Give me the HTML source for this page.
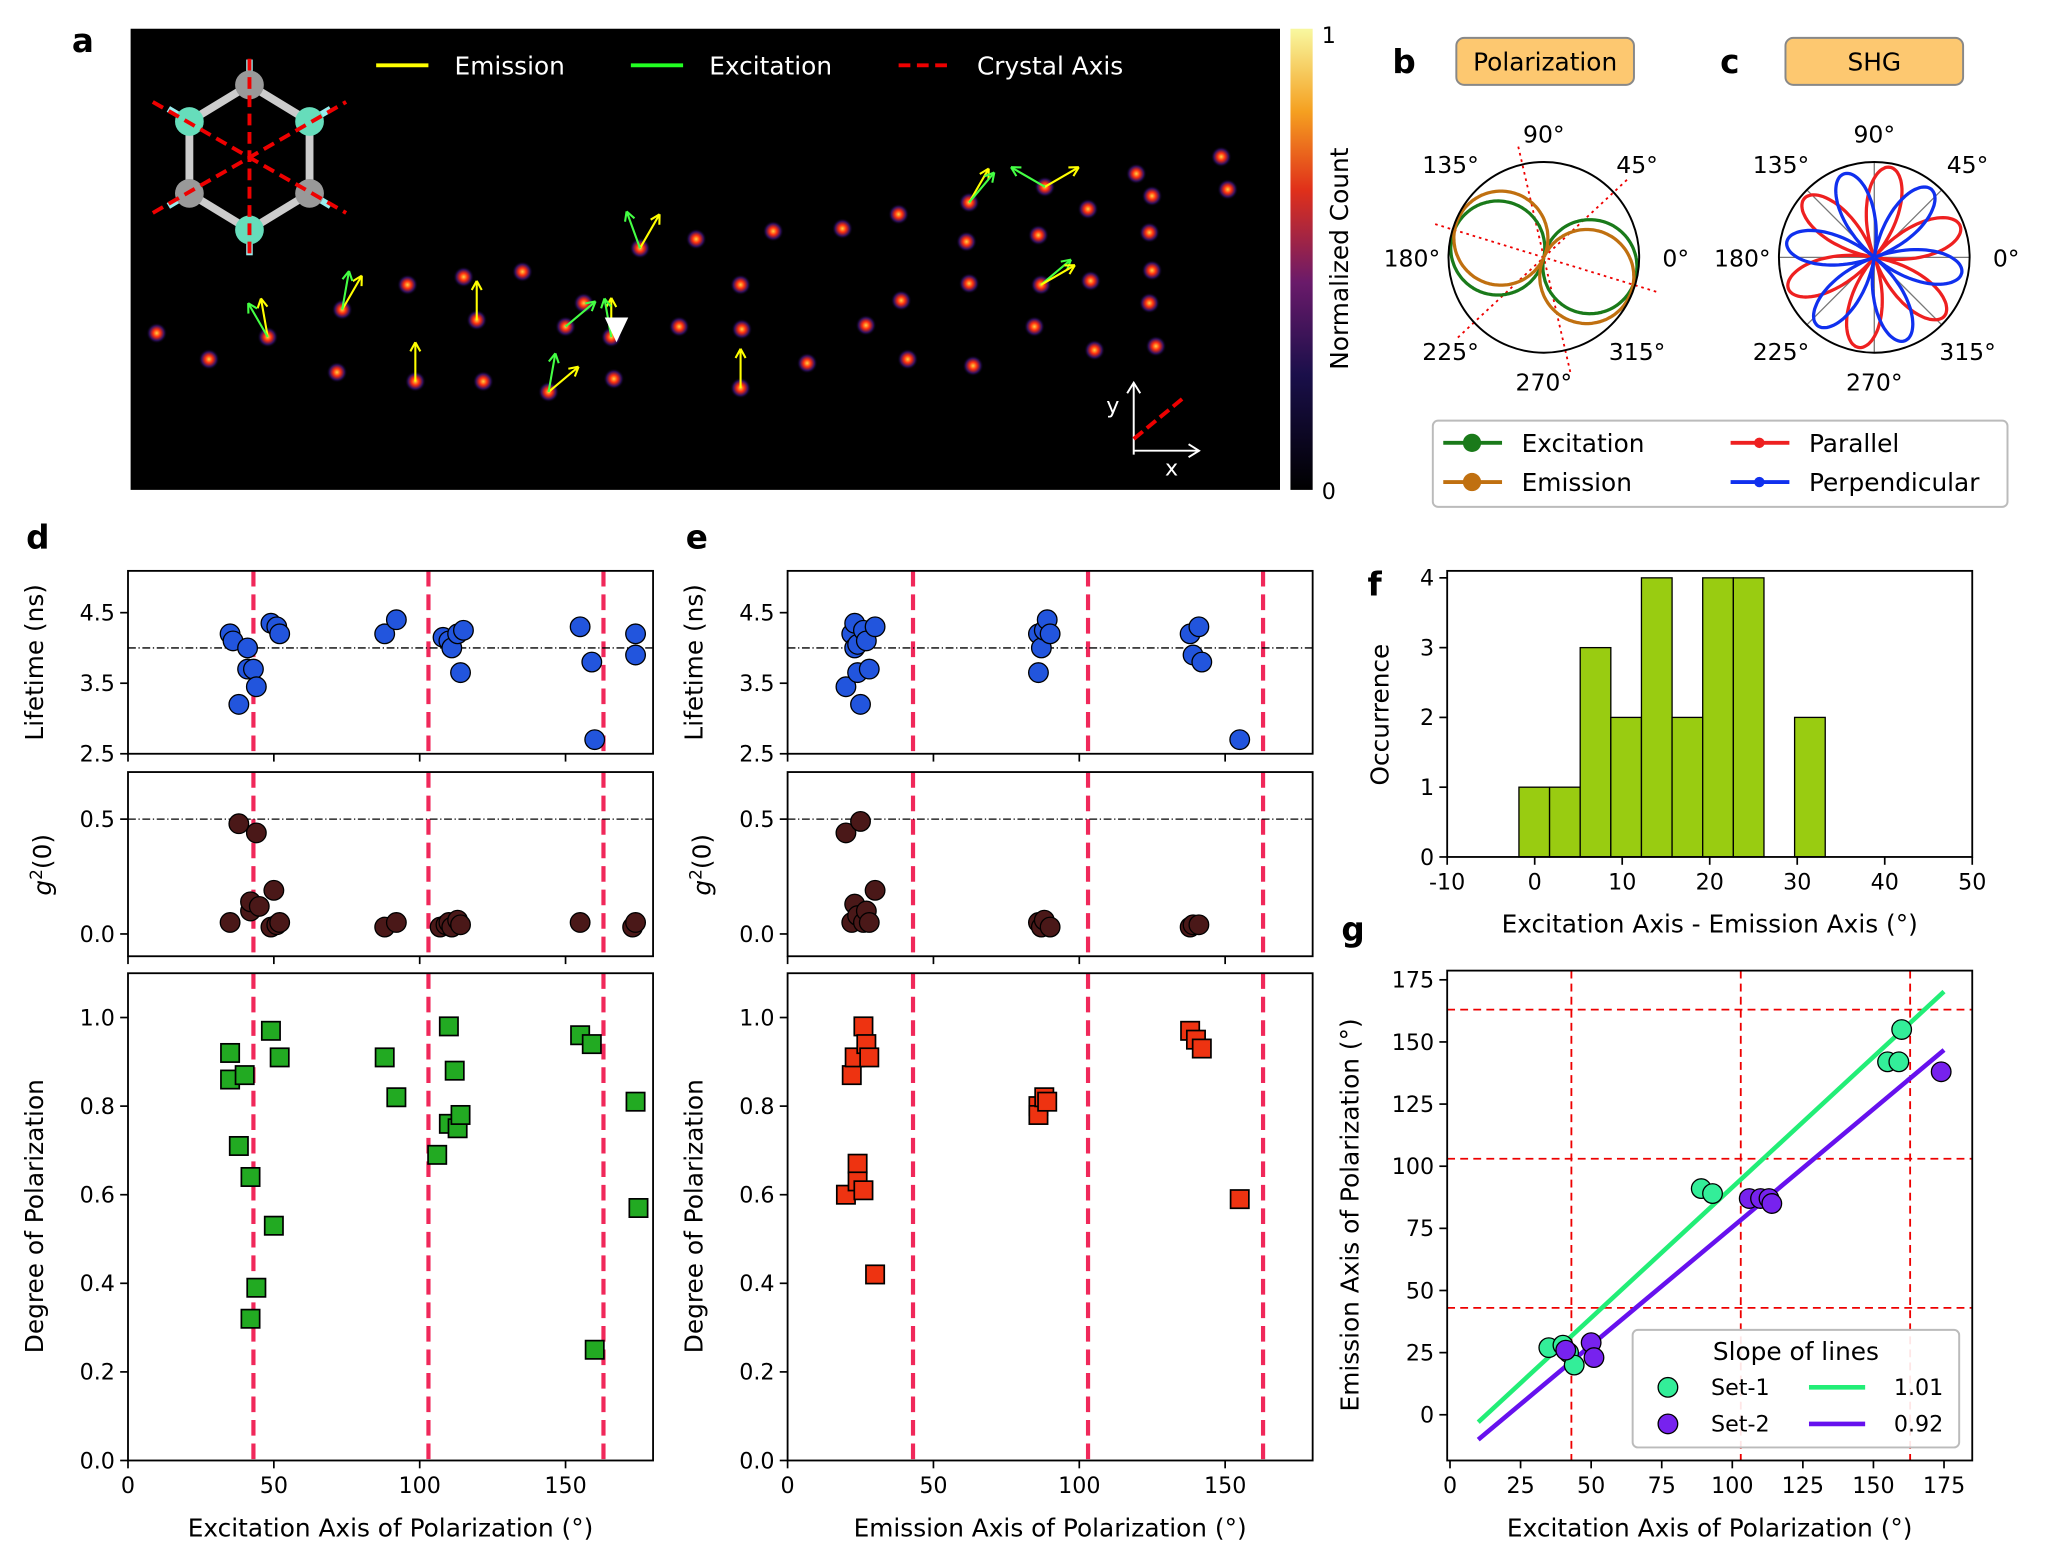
<!DOCTYPE html>
<html><head><meta charset="utf-8"><style>
html,body{margin:0;padding:0;background:#fff}
svg{display:block;font-family:"DejaVu Sans","Liberation Sans",sans-serif}
</style></head><body>
<svg id="s" width="2048" height="1565" viewBox="0 0 1568 1198" preserveAspectRatio="none" xmlns="http://www.w3.org/2000/svg">
<defs>
<linearGradient id="cb" x1="0" y1="1" x2="0" y2="0">
<stop offset="0" stop-color="#000"/><stop offset="0.25" stop-color="#1a0f4a"/><stop offset="0.45" stop-color="#6a1a6a"/>
<stop offset="0.65" stop-color="#e0301a"/><stop offset="0.82" stop-color="#f5a020"/><stop offset="1" stop-color="#f8f8a0"/>
</linearGradient>
<radialGradient id="spot"><stop offset="0" stop-color="#ffd040"/><stop offset="0.35" stop-color="#ff3010"/><stop offset="0.7" stop-color="#301060"/><stop offset="1" stop-color="#000" stop-opacity="0"/></radialGradient>
</defs>
<g id="root"></g>
</svg>
<script>
// ---------- data ----------
const dLifeX=[35,36,38,41,41,43,44,49,51,52,88,92,108,110,111,113,114,115,155,159,160,174,174];
const dLifeY=[4.2,4.1,3.2,4.0,3.7,3.7,3.45,4.35,4.3,4.2,4.2,4.4,4.15,4.1,4.0,4.2,3.65,4.25,4.3,3.8,2.7,3.9,4.2];
const dG2X=[35,38,42,42,44,45,49,50,51,52,88,92,107,109,110,111,113,114,155,173,174];
const dG2Y=[0.05,0.48,0.1,0.14,0.44,0.12,0.03,0.19,0.04,0.05,0.03,0.05,0.03,0.04,0.05,0.03,0.06,0.04,0.05,0.03,0.05];
const dDopX=[35,35,38,40,42,42,44,49,50,52,88,92,106,110,110,112,113,114,155,159,160,174,175];
const dDopY=[0.92,0.86,0.71,0.87,0.32,0.64,0.39,0.97,0.53,0.91,0.91,0.82,0.69,0.98,0.76,0.88,0.75,0.78,0.96,0.94,0.25,0.81,0.57];
const eLifeX=[20,22,23,23,24,24,25,26,27,28,30,86,86,87,88,89,90,138,139,141,142,155];
const eLifeY=[3.45,4.2,4.35,4.0,4.05,3.65,3.2,4.25,4.1,3.7,4.3,3.65,4.2,4.0,4.25,4.4,4.2,4.2,3.9,4.3,3.8,2.7];
const eG2X=[20,22,23,24,25,26,27,28,30,86,87,88,90,138,139,141];
const eG2Y=[0.44,0.05,0.13,0.08,0.49,0.05,0.1,0.05,0.19,0.05,0.03,0.06,0.03,0.03,0.04,0.04];
const eDopX=[20,22,23,24,24,26,26,27,28,30,86,86,88,89,138,140,142,155];
const eDopY=[0.6,0.87,0.91,0.67,0.63,0.98,0.61,0.94,0.91,0.42,0.8,0.78,0.82,0.81,0.97,0.95,0.93,0.59];
const crystalAxes=[43,103,163];
const histCounts=[1,1,3,2,4,2,4,4,0,2];
const histStart=-1.8, histWidth=3.5;
const set1X=[35,40,42,44,89,93,155,159,160];
const set1Y=[27,28,25,20,91,89,142,142,155];
const set2X=[41,50,51,106,110,113,114,174];
const set2Y=[26,29,23,87,87,87,85,138];
const slopes=[1.05,0.95];
const intercepts=[-13.5,-19.5];
const slopeLabels=["1.01","0.92"];
const spots=[[120,255],[160,275],[205,258],[258,285],[262,237],[312,218],[318,292],[355,212],[365,245],[370,292],[400,208],[420,300],[433,250],[447,232],[468,258],[470,290],[490,190],[520,250],[533,183],[567,218],[568,252],[567,297],[592,177],[618,278],[645,175],[663,249],[688,164],[690,230],[695,275],[740,185],[742,217],[745,280],[742,155],[792,250],[797,218],[795,180],[800,143],[835,215],[838,268],[833,160],[870,133],[880,178],[882,207],[880,232],[885,265],[882,150],[935,120],[940,145]];
// ---------- helpers ----------
const NS="http://www.w3.org/2000/svg", root=document.getElementById('root');
function el(t,a,p){const e=document.createElementNS(NS,t);for(const k in a)e.setAttribute(k,a[k]);(p||root).appendChild(e);return e;}
function txt(x,y,s,a,p){const e=el('text',Object.assign({x:x,y:y,'font-size':17,fill:'#000'},a||{}),p);e.textContent=s;return e;}
function lin(x0,x1,p0,p1){return v=>p0+(v-x0)*(p1-p0)/(x1-x0);}
function axes(name,L,T,R,B,xd,yd,xt,xlab,yt,ylab,fmt){
  const g=el('g',{});
  const sx=lin(xd[0],xd[1],L,R), sy=lin(yd[0],yd[1],B,T);
  xt.forEach(v=>{const x=sx(v);el('line',{x1:x,y1:B,x2:x,y2:B+6,stroke:'#000','stroke-width':1.3},g);if(xlab)txt(x,B+25,String(v),{'text-anchor':'middle'},g);});
  yt.forEach(v=>{const y=sy(v);el('line',{x1:L-6,y1:y,x2:L,y2:y,stroke:'#000','stroke-width':1.3},g);txt(L-10,y+6,fmt?fmt(v):String(v),{'text-anchor':'end'},g);});
  return {g,sx,sy,L,T,R,B,frame(){el('rect',{x:L,y:T,width:R-L,height:B-T,fill:'none',stroke:'#000','stroke-width':1.4},g);}};
}
function ylabel(x,y,s,g){return txt(x,y,s,{'font-size':19,'text-anchor':'middle',transform:`rotate(-90 ${x} ${y})`},g);}
// ---------- panel a ----------
const pa=el('g',{});
el('rect',{x:100,y:22,width:880,height:353,fill:'#000'},pa);
spots.forEach(s=>{const c=el('circle',{cx:s[0],cy:s[1],r:8,fill:'url(#spot)'},pa);});
[[262,237,-60,'#ff0'],[262,237,-80,'#4f4'],[205,258,-100,'#ff0'],[205,258,-120,'#4f4'],[468,258,-90,'#ff0'],[468,258,-100,'#4f4'],[490,190,-60,'#ff0'],[490,190,-110,'#4f4'],[567,297,-90,'#ff0'],[742,155,-60,'#ff0'],[742,155,-50,'#4f4'],[800,143,-30,'#ff0'],[800,143,-150,'#4f4'],[365,245,-90,'#ff0'],[420,300,-40,'#ff0'],[420,300,-80,'#4f4'],[318,292,-90,'#ff0'],[797,218,-40,'#4f4'],[797,218,-30,'#ff0'],[433,250,-40,'#4f4']].forEach(a=>{
 const r=a[2]*Math.PI/180,x2=a[0]+30*Math.cos(r),y2=a[1]+30*Math.sin(r);
 const ln=el('line',{x1:a[0],y1:a[1],x2:x2,y2:y2,stroke:a[3],'stroke-width':1.6},pa);
 [0.5,-0.5].forEach(d=>el('line',{x1:x2,y1:y2,x2:x2-8*Math.cos(r+d),y2:y2-8*Math.sin(r+d),stroke:a[3],'stroke-width':1.6},pa));});
el('polygon',{points:'463,243 481,243 472,262',fill:'#fff'},pa);
const hx=[[191,65],[237,93],[237,148],[191,176],[145,148],[145,93]];
hx.forEach((p,i)=>{const q=hx[(i+1)%6];el('line',{x1:p[0],y1:p[1],x2:q[0],y2:q[1],stroke:'#ccc','stroke-width':6},pa);});
hx.forEach((p,i)=>{el('line',{x1:p[0],y1:p[1],x2:191+(p[0]-191)*1.35,y2:120.5+(p[1]-120.5)*1.35,stroke:'#9ee','stroke-width':5},pa);el('circle',{cx:p[0],cy:p[1],r:11,fill:i%2?'#66ddbb':'#999'},pa);});
[[191,45,191,196],[117,78,265,163],[117,163,265,78]].forEach(l=>el('line',{x1:l[0],y1:l[1],x2:l[2],y2:l[3],stroke:'#e00','stroke-width':3,'stroke-dasharray':'9,5'},pa));
el('line',{x1:288,y1:50,x2:328,y2:50,stroke:'#ff0','stroke-width':3},pa);txt(348,57,'Emission',{fill:'#fff','font-size':19},pa);
el('line',{x1:483,y1:50,x2:523,y2:50,stroke:'#2f2','stroke-width':3},pa);txt(543,57,'Excitation',{fill:'#fff','font-size':19},pa);
el('line',{x1:688,y1:50,x2:728,y2:50,stroke:'#e00','stroke-width':3,'stroke-dasharray':'9,5'},pa);txt(748,57,'Crystal Axis',{fill:'#fff','font-size':19},pa);
el('line',{x1:868,y1:345,x2:918,y2:345,stroke:'#fff','stroke-width':1.5},pa);el('polyline',{points:'910,340 918,345 910,350',fill:'none',stroke:'#fff','stroke-width':1.5},pa);
el('line',{x1:868,y1:348,x2:868,y2:293,stroke:'#fff','stroke-width':1.5},pa);el('polyline',{points:'863,301 868,293 873,301',fill:'none',stroke:'#fff','stroke-width':1.5},pa);
el('line',{x1:868,y1:336,x2:908,y2:303,stroke:'#e00','stroke-width':3,'stroke-dasharray':'9,4'},pa);
txt(847,316,'y',{fill:'#fff','font-size':17},pa);txt(892,364,'x',{fill:'#fff','font-size':17},pa);
const cbg=el('g',{});
el('rect',{x:988,y:22,width:17,height:353,fill:'url(#cb)'},cbg);
txt(1012,33,'1',{},cbg);txt(1012,382,'0',{},cbg);ylabel(1032,198,'Normalized Count',cbg);
// ---------- panels b, c ----------
function polar(name,cx,cy,R,title,tx,draw){
 const g=el('g',{});
 el('rect',{x:tx-68,y:29,width:136,height:36,rx:6,fill:'#fdc870',stroke:'#888','stroke-width':1.5},g);
 txt(tx,54,title,{'text-anchor':'middle','font-size':19},g);
 draw(g);
 el('circle',{cx:cx,cy:cy,r:R,fill:'none',stroke:'#000','stroke-width':1.5},g);
 [[0,'0°'],[45,'45°'],[90,'90°'],[135,'135°'],[180,'180°'],[225,'225°'],[270,'270°'],[315,'315°']].forEach(a=>{
  const r=a[0]*Math.PI/180,rr=R+(a[0]%90?28:22);txt(cx+rr*Math.cos(r)+(a[0]==0?6:a[0]==180?-6:0),cy-rr*Math.sin(r)+7,a[1],{'text-anchor':'middle','font-size':18},g);});
 return g;}
function curve(g,cx,cy,R,f,col,w){let d='';for(let i=0;i<=360;i++){const t=i*Math.PI/180,r=R*f(t);d+=(i?'L':'M')+(cx+r*Math.cos(t)).toFixed(1)+','+(cy-r*Math.sin(t)).toFixed(1);}return el('path',{d:d,fill:'none',stroke:col,'stroke-width':w||2.5},g);}
polar('polar-polarization',1182,197,73,'Polarization',1183,g=>{
 crystalAxes.forEach(a=>{const r=a*Math.PI/180;el('line',{x1:1182-90*Math.cos(r),y1:197+90*Math.sin(r),x2:1182+90*Math.cos(r),y2:197-90*Math.sin(r),stroke:'#e00','stroke-width':1.4,'stroke-dasharray':'2,3'},g);});
 const c1=curve(g,1182,197,72,t=>Math.abs(Math.cos(t+0.2)),'#1a7a1a');
 const c2=curve(g,1182,197,72,t=>Math.abs(Math.cos(t+0.42)),'#c07010');
});
polar('polar-shg',1435,197,73,'SHG',1435,g=>{
 [0,45,90,135].forEach(a=>{const r=a*Math.PI/180;el('line',{x1:1435-73*Math.cos(r),y1:197+73*Math.sin(r),x2:1435+73*Math.cos(r),y2:197-73*Math.sin(r),stroke:'#777','stroke-width':1},g);});
 const c1=curve(g,1435,197,70,t=>Math.abs(Math.cos(3*(t-0.35))),'#ee2020');
 const c2=curve(g,1435,197,68,t=>Math.abs(Math.sin(3*(t-0.35))),'#1030ee');
});
const lg=el('g',{});
el('rect',{x:1097,y:322,width:440,height:66,rx:4,fill:'#fff',stroke:'#bbb','stroke-width':1.5},lg);
[[1105,339,'#1a7a1a','Excitation'],[1105,369,'#c07010','Emission'],[1325,339,'#ee2020','Parallel'],[1325,369,'#1030ee','Perpendicular']].forEach(e=>{
 el('line',{x1:e[0],y1:e[1],x2:e[0]+45,y2:e[1],stroke:e[2],'stroke-width':3},lg);el('circle',{cx:e[0]+22,cy:e[1],r:e[2]=='#ee2020'||e[2]=='#1030ee'?4:7,fill:e[2]},lg);txt(e[0]+60,e[1]+7,e[3],{'font-size':19},lg);});
// ---------- panels d, e ----------
function scatterPanel(prefix,L,R,lx,lifeX,lifeY,g2X,g2Y,dopX,dopY,sqCol,xlab){
 const vl=(a)=>crystalAxes.forEach(c=>{const x=a.sx(c);el('line',{x1:x,y1:a.T,x2:x,y2:a.B,stroke:'#f0285a','stroke-width':3.2,'stroke-dasharray':'12,6'},a.g);});
 const a1=axes(prefix+'-lifetime-axes',L,437,R,577,[0,180],[2.5,2.5+140/54],[0,50,100,150],false,[2.5,3.5,4.5],null,v=>v.toFixed(1));
 vl(a1);el('line',{x1:L,y1:a1.sy(4),x2:R,y2:a1.sy(4),stroke:'#000','stroke-width':1,'stroke-dasharray':'6,2,1,2'},a1.g);
 lifeX.forEach((x,i)=>{const c=el('circle',{cx:a1.sx(x),cy:a1.sy(lifeY[i]),r:7.5,fill:'#2255dd',stroke:'#000','stroke-width':1},a1.g);});
 a1.frame();ylabel(lx,507,'Lifetime (ns)',a1.g);
 const a2=axes(prefix+'-g2-axes',L,591,R,732,[0,180],[-0.097,0.705],[0,50,100,150],false,[0.0,0.5],null,v=>v.toFixed(1));
 vl(a2);el('line',{x1:L,y1:a2.sy(0.5),x2:R,y2:a2.sy(0.5),stroke:'#000','stroke-width':1,'stroke-dasharray':'6,2,1,2'},a2.g);
 g2X.forEach((x,i)=>{const c=el('circle',{cx:a2.sx(x),cy:a2.sy(g2Y[i]),r:7.5,fill:'#4a1818',stroke:'#000','stroke-width':1},a2.g);});
 a2.frame();const t=txt(lx+6,662,'',{'font-size':19,'text-anchor':'middle',transform:`rotate(-90 ${lx+6} 662)`},a2.g);t.innerHTML='<tspan font-style="italic">g</tspan><tspan dy="-7" font-size="13">2</tspan><tspan dy="7">(0)</tspan>';
 const a3=axes(prefix+'-dop-axes',L,745,R,1118,[0,180],[0,1.1],[0,50,100,150],true,[0,0.2,0.4,0.6,0.8,1.0],null,v=>v.toFixed(1));
 vl(a3);
 dopX.forEach((x,i)=>{const c=el('rect',{x:a3.sx(x)-7,y:a3.sy(dopY[i])-7,width:14,height:14,fill:sqCol,stroke:'#000','stroke-width':1.3},a3.g);});
 a3.frame();ylabel(lx,931,'Degree of Polarization',a3.g);txt((L+R)/2,1176,xlab,{'font-size':19,'text-anchor':'middle'},a3.g);
}
scatterPanel('d',98,500,33,dLifeX,dLifeY,dG2X,dG2Y,dDopX,dDopY,'#22aa22','Excitation Axis of Polarization (°)');
scatterPanel('e',603,1005,538,eLifeX,eLifeY,eG2X,eG2Y,eDopX,eDopY,'#ee3311','Emission Axis of Polarization (°)');
// ---------- panel f ----------
const af=axes('f-histogram-axes',1108,437,1510,656,[-10,50],[0,4.1],[-10,0,10,20,30,40,50],true,[0,1,2,3,4]);
histCounts.forEach((c,i)=>{if(!c)return;const x0=histStart+i*histWidth;const b=el('rect',{x:af.sx(x0),y:af.sy(c),width:af.sx(x0+histWidth)-af.sx(x0),height:af.sy(0)-af.sy(c),fill:'#99cc11',stroke:'#000','stroke-width':1},af.g);});
af.frame();ylabel(1063,547,'Occurrence',af.g);txt(1309,714,'Excitation Axis - Emission Axis (°)',{'font-size':19,'text-anchor':'middle'},af.g);
// ---------- panel g ----------
const ag=axes('g-scatter-axes',1108,743,1510,1118,[-1,185],[-18.4,178.7],[0,25,50,75,100,125,150,175],true,[0,25,50,75,100,125,150,175]);
crystalAxes.forEach(c=>{el('line',{x1:ag.sx(c),y1:743,x2:ag.sx(c),y2:1118,stroke:'#e00','stroke-width':1.4,'stroke-dasharray':'6,4'},ag.g);el('line',{x1:1108,y1:ag.sy(c),x2:1510,y2:ag.sy(c),stroke:'#e00','stroke-width':1.4,'stroke-dasharray':'6,4'},ag.g);});
['#22ee77','#6611ee'].forEach((col,k)=>{const l=el('line',{x1:ag.sx(10),y1:ag.sy(intercepts[k]+slopes[k]*10),x2:ag.sx(175),y2:ag.sy(intercepts[k]+slopes[k]*175),stroke:col,'stroke-width':3.5},ag.g);});
set1X.forEach((x,i)=>{const c=el('circle',{cx:ag.sx(x),cy:ag.sy(set1Y[i]),r:7.5,fill:'#33ee99',stroke:'#000','stroke-width':1},ag.g);});
set2X.forEach((x,i)=>{const c=el('circle',{cx:ag.sx(x),cy:ag.sy(set2Y[i]),r:7.5,fill:'#7722ee',stroke:'#000','stroke-width':1},ag.g);});
ag.frame();ylabel(1040,930,'Emission Axis of Polarization (°)',ag.g);txt(1309,1176,'Excitation Axis of Polarization (°)',{'font-size':19,'text-anchor':'middle'},ag.g);
const gl=el('g',{});
el('rect',{x:1250,y:1018,width:250,height:90,rx:4,fill:'#fff','fill-opacity':0.9,stroke:'#bbb','stroke-width':1.5},gl);
txt(1375,1041,'Slope of lines',{'font-size':19,'text-anchor':'middle'},gl);
el('circle',{cx:1277,cy:1062,r:7.5,fill:'#33ee99',stroke:'#000'},gl);txt(1310,1068,'Set-1',{},gl);
el('circle',{cx:1277,cy:1090,r:7.5,fill:'#7722ee',stroke:'#000'},gl);txt(1310,1096,'Set-2',{},gl);
el('line',{x1:1385,y1:1062,x2:1428,y2:1062,stroke:'#22ee77','stroke-width':3.5},gl);txt(1450,1068,slopeLabels[0],{},gl);
el('line',{x1:1385,y1:1090,x2:1428,y2:1090,stroke:'#6611ee','stroke-width':3.5},gl);txt(1450,1096,slopeLabels[1],{},gl);
[['a',55,40],['b',1066,56],['c',1317,56],['d',20,420],['e',525,420],['f',1047,456],['g',1027,720]].forEach(l=>{const t=txt(l[1],l[2],l[0],{'font-size':25,'font-weight':'bold'});});
</script>
</body></html>
